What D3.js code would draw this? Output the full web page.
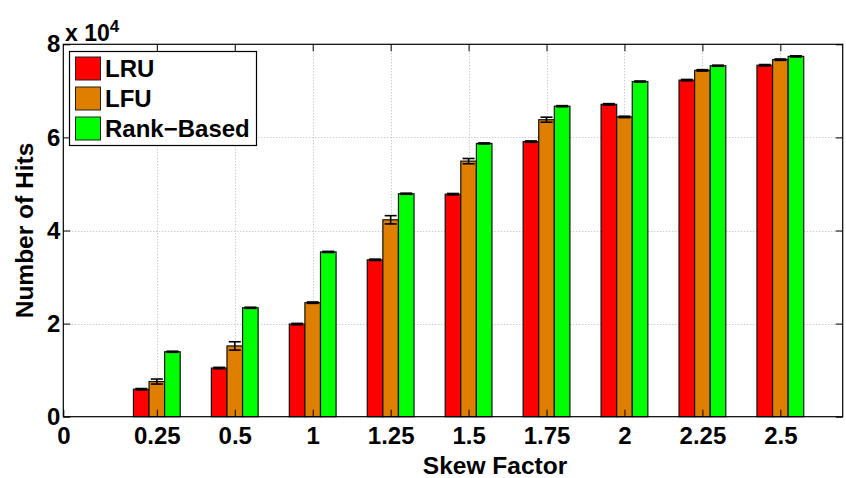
<!DOCTYPE html>
<html>
<head>
<meta charset="utf-8">
<script src="https://cdn.jsdelivr.net/npm/d3@7"></script>
<style>
  html, body { margin: 0; padding: 0; background: #fff; }
  svg text { font-family: "Liberation Sans", Arial, Helvetica, sans-serif; font-weight: bold; fill: #000; }
</style>
</head>
<body>
<svg id="chart" width="846" height="478"></svg>
<script>
// Skew factors on the horizontal axis (one group of bars each)
const categories = ["0.25", "0.5", "1", "1.25", "1.5", "1.75", "2", "2.25", "2.5"];
const originLabel = "0";

// Cache policies compared in each group
const seriesNames = ["LRU", "LFU", "Rank\u2212Based"];
const seriesColors = ["#ff0000", "#de7f00", "#00ff00"];

// Number of hits per policy
const lruHits  = [5900, 10450, 19900, 33700, 47800, 59100, 67100, 72300, 75500];
const lfuHits  = [7550, 15200, 24500, 42300, 54900, 63800, 64400, 74400, 76700];
const rankHits = [13950, 23400, 35400, 47900, 58700, 66700, 72000, 75400, 77400];

// Error bar half-lengths
const lruErr  = [150, 150, 150, 150, 150, 150, 150, 150, 150];
const lfuErr  = [540, 900, 150, 890, 570, 540, 150, 150, 150];
const rankErr = [120, 120, 120, 120, 120, 120, 120, 120, 120];

// Y ticks (in units of 10^4)
const yTicks = [0, 2, 4, 6, 8];
const yExponent = 4;

const series = [
  { name: seriesNames[0], color: seriesColors[0], values: lruHits,  err: lruErr },
  { name: seriesNames[1], color: seriesColors[1], values: lfuHits,  err: lfuErr },
  { name: seriesNames[2], color: seriesColors[2], values: rankHits, err: rankErr }
];

const svg = d3.select("#chart");
const plot = { left: 63.3, right: 842.7, top: 44.3, bottom: 416.7 };

// Groups sit at 1..9; each bar is 0.2 units wide
const barW = 0.2;
const x = d3.scaleLinear().domain([-0.2, 9.8]).range([plot.left, plot.right]);
const y = d3.scaleLinear().domain([0, yTicks[yTicks.length - 1] * Math.pow(10, yExponent)])
  .range([plot.bottom, plot.top]);
const groupPos = categories.map((c, i) => i + 1);

const tickLen = 7;
const fontTick = 24;

// Dotted grid
const grid = svg.append("g").attr("stroke", "#b8b8b8").attr("stroke-width", 1)
  .attr("stroke-dasharray", "1,2");
grid.selectAll("line.h").data(yTicks.slice(1, -1)).join("line")
  .attr("x1", plot.left).attr("x2", plot.right)
  .attr("y1", d => Math.round(y(d * 1e4)) + 0.5).attr("y2", d => Math.round(y(d * 1e4)) + 0.5);
grid.selectAll("line.v").data(groupPos).join("line")
  .attr("y1", plot.top).attr("y2", plot.bottom)
  .attr("x1", d => Math.round(x(d)) + 0.5).attr("x2", d => Math.round(x(d)) + 0.5);

// Bars
series.forEach((s, si) => {
  const offset = (si - 1) * barW;
  svg.append("g").selectAll("rect").data(s.values).join("rect")
    .attr("x", (d, i) => x(groupPos[i] + offset - barW / 2))
    .attr("width", x(barW) - x(0))
    .attr("y", d => y(d))
    .attr("height", d => y(0) - y(d))
    .attr("fill", s.color)
    .attr("stroke", "#111")
    .attr("stroke-width", 1.2);
});

// Error bars
const capW = 12;
series.forEach((s, si) => {
  const offset = (si - 1) * barW;
  const g = svg.append("g").attr("stroke", "#000").attr("stroke-width", 1.6);
  s.values.forEach((v, i) => {
    const cx = x(groupPos[i] + offset);
    const y1 = y(v + s.err[i]), y2 = y(v - s.err[i]);
    g.append("line").attr("x1", cx).attr("x2", cx).attr("y1", y1).attr("y2", y2);
    g.append("line").attr("x1", cx - capW / 2).attr("x2", cx + capW / 2).attr("y1", y1).attr("y2", y1);
    g.append("line").attr("x1", cx - capW / 2).attr("x2", cx + capW / 2).attr("y1", y2).attr("y2", y2);
  });
});

// Axes with inward ticks
const xTickVals = [x.domain()[0]].concat(groupPos);
const xLabels = [originLabel].concat(categories);
const xAxis = d3.axisBottom(x).tickValues(xTickVals)
  .tickFormat((d, i) => xLabels[i]).tickSize(-tickLen).tickPadding(10);
const gx = svg.append("g").attr("transform", `translate(0,${plot.bottom})`).call(xAxis);
gx.select(".domain").remove();
gx.selectAll("text").style("font-size", fontTick + "px");

const yAxis = d3.axisLeft(y).tickValues(yTicks.map(t => t * 1e4))
  .tickFormat(d => String(d / 1e4)).tickSize(-tickLen).tickPadding(3);
const gy = svg.append("g").attr("transform", `translate(${plot.left},0)`).call(yAxis);
gy.select(".domain").remove();
gy.selectAll("text").style("font-size", fontTick + "px");

// Mirror ticks on top and right
const gxt = svg.append("g").attr("transform", `translate(0,${plot.top})`)
  .call(d3.axisTop(x).tickValues(groupPos).tickFormat("").tickSize(-tickLen));
gxt.select(".domain").remove();
const gyr = svg.append("g").attr("transform", `translate(${plot.right},0)`)
  .call(d3.axisRight(y).tickValues(yTicks.map(t => t * 1e4)).tickFormat("").tickSize(-tickLen));
gyr.select(".domain").remove();
svg.selectAll(".tick line").attr("stroke", "#000");

// Axes box
svg.append("rect")
  .attr("x", plot.left).attr("y", plot.top)
  .attr("width", plot.right - plot.left).attr("height", plot.bottom - plot.top)
  .attr("fill", "none").attr("stroke", "#000").attr("stroke-width", 1.2);

// Exponent label
const expo = svg.append("text").attr("x", 65).attr("y", 41).style("font-size", "23px");
expo.append("tspan").text("x 10");
expo.append("tspan").attr("dy", -9).style("font-size", "17px").text(String(yExponent));

// Axis titles
svg.append("text").attr("x", 495).attr("y", 474).attr("text-anchor", "middle")
  .style("font-size", "24.5px").text("Skew Factor");
svg.append("text").attr("transform", `translate(33,${(plot.top + plot.bottom) / 2}) rotate(-90)`)
  .attr("text-anchor", "middle").style("font-size", "24.5px").text("Number of Hits");

// Legend
const lg = svg.append("g");
lg.append("rect").attr("x", 69.5).attr("y", 51.5).attr("width", 187).attr("height", 94)
  .attr("fill", "#fff").attr("stroke", "#000").attr("stroke-width", 1.2);
series.forEach((s, i) => {
  const cy = 68.5 + i * 30;
  lg.append("rect").attr("x", 75.5).attr("y", cy - 11.5).attr("width", 25).attr("height", 23)
    .attr("fill", s.color).attr("stroke", "#222").attr("stroke-width", 1);
  lg.append("text").attr("x", 105).attr("y", cy + 8.5).style("font-size", "24px").text(s.name);
});
</script>
</body>
</html>
